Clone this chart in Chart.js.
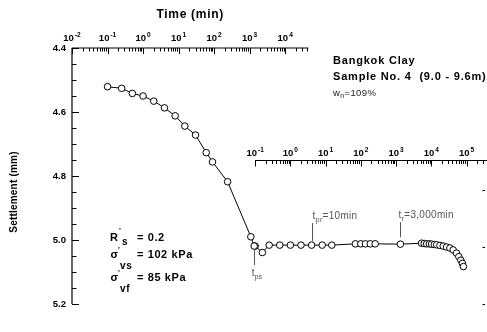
<!DOCTYPE html>
<html lang="en">
<head>
<meta charset="UTF-8">
<title>Settlement vs Time</title>
<script src="https://cdn.jsdelivr.net/npm/chart.js"></script>
<style>
  html, body { margin: 0; padding: 0; background: #fff; }
  #wrap { width: 487px; height: 332px; }
</style>
</head>
<body>
<div id="wrap"><canvas id="myChart" width="487" height="332"></canvas></div>
<script>
// Stage 1, plotted on the top time axis
const stage1Time = [0.1, 0.25, 0.5, 1, 2, 4, 8, 15, 30, 60, 90, 240, 1080, 1340];
const stage1Settle = [4.521, 4.526, 4.542, 4.550, 4.566, 4.587, 4.612, 4.644, 4.672, 4.727, 4.756, 4.818, 4.990, 5.019];

// Stage 2, plotted on the lower time axis
const stage2Time = [0.1, 0.16, 0.25, 0.5, 1, 2, 4, 8, 15, 70, 100, 135, 185, 255, 1330,
  5300, 6300, 7400, 8800, 10200, 12200, 14300, 17600, 21800, 27100, 33700, 41800, 51900, 60600, 69000, 76600, 81600];
const stage2Settle = [5.019, 5.039, 5.016, 5.016, 5.016, 5.016, 5.016, 5.016, 5.016, 5.012, 5.012, 5.012, 5.012, 5.012, 5.013,
  5.010, 5.011, 5.012, 5.012, 5.013, 5.014, 5.015, 5.017, 5.019, 5.022, 5.025, 5.031, 5.041, 5.052, 5.063, 5.073, 5.083];

// axis ticks
const topDecades = [-2, -1, 0, 1, 2, 3, 4];
const lowDecades = [-1, 0, 1, 2, 3, 4, 5];
const settleLabels = ['4.4', '4.6', '4.8', '5.0', '5.2'];
const rightTicks = [4.845, 5.022, 5.2];
const topAxisEnd = 4.5e4;
const lowAxisLevel = 4.75;   // settlement level where the lower time axis sits

const FONT = '"Liberation Sans", Arial, Helvetica, sans-serif';
const GREY = '#555';

function pts(t, s) { return t.map((v, i) => ({ x: v, y: s[i] })); }

function expLabel(ctx, x, y, exp) {
  ctx.textBaseline = 'middle';
  ctx.textAlign = 'left';
  ctx.font = 'bold 9.5px ' + FONT;
  const wb = ctx.measureText('10').width;
  ctx.font = 'bold 6.5px ' + FONT;
  const e = String(exp);
  const we = ctx.measureText(e).width;
  const x0 = x - (wb + we + 1) / 2;
  ctx.font = 'bold 9.5px ' + FONT;
  ctx.fillText('10', x0, y);
  ctx.font = 'bold 6.5px ' + FONT;
  ctx.fillText(e, x0 + wb + 1, y - 3);
}

function line(ctx, x1, y1, x2, y2) {
  ctx.beginPath(); ctx.moveTo(x1, y1); ctx.lineTo(x2, y2); ctx.stroke();
}

// text with a subscript part: [base, sub, rest]
function subText(ctx, x, y, base, sub, rest, size, weight, color) {
  ctx.fillStyle = color;
  ctx.textBaseline = 'middle';
  ctx.textAlign = 'left';
  ctx.font = weight + ' ' + size + 'px ' + FONT;
  ctx.fillText(base, x, y);
  let cx = x + ctx.measureText(base).width;
  ctx.font = weight + ' ' + (size * 0.72) + 'px ' + FONT;
  ctx.fillText(sub, cx, y + size * 0.35);
  cx += ctx.measureText(sub).width;
  ctx.font = weight + ' ' + size + 'px ' + FONT;
  ctx.fillText(rest, cx, y);
}

const axesPlugin = {
  id: 'axesPlugin',
  beforeDatasetsDraw(chart) {
    const ctx = chart.ctx;
    const { left, right, top, bottom } = chart.chartArea;
    const xs = chart.scales.x, x2 = chart.scales.x2, ys = chart.scales.y;
    ctx.save();
    ctx.strokeStyle = '#000';
    ctx.fillStyle = '#000';
    ctx.lineWidth = 1.2;

    // left settlement axis
    line(ctx, left, ys.getPixelForValue(4.4), left, ys.getPixelForValue(5.2));
    ctx.lineWidth = 1;
    for (let i = 0; i <= 16; i++) {
      const v = 4.4 + i * 0.05;
      const py = Math.round(ys.getPixelForValue(v)) + 0.5;
      line(ctx, left, py, left + (i % 4 === 0 ? 7 : 4.5), py);
    }
    ctx.font = 'bold 9.5px ' + FONT;
    ctx.textAlign = 'right';
    ctx.textBaseline = 'middle';
    settleLabels.forEach(l => ctx.fillText(l, left - 6, ys.getPixelForValue(parseFloat(l))));

    // right axis stubs
    rightTicks.forEach(v => {
      const py = Math.round(ys.getPixelForValue(v)) + 0.5;
      line(ctx, right + 0.5, py, right + 3, py);
    });

    // top time axis
    ctx.lineWidth = 1.2;
    line(ctx, xs.getPixelForValue(0.01), top, xs.getPixelForValue(topAxisEnd), top);
    ctx.lineWidth = 1;
    topDecades.forEach(d => {
      for (let m = 1; m <= 9; m++) {
        const v = m * Math.pow(10, d);
        if (v > topAxisEnd) break;
        const px = Math.round(xs.getPixelForValue(v)) + 0.5;
        line(ctx, px, top, px, top + (m === 1 ? 6 : 3.5));
      }
      expLabel(ctx, xs.getPixelForValue(Math.pow(10, d)), top - 10, d);
    });

    // lower time axis
    const ly = Math.round(ys.getPixelForValue(lowAxisLevel)) + 0.5;
    ctx.lineWidth = 1.2;
    line(ctx, x2.getPixelForValue(0.1), ly, chart.width, ly);
    ctx.lineWidth = 1;
    lowDecades.concat([6]).forEach(d => {
      for (let m = 1; m <= 9; m++) {
        const v = m * Math.pow(10, d);
        const px = Math.round(x2.getPixelForValue(v)) + 0.5;
        if (px > chart.width) break;
        line(ctx, px, ly, px, ly + (m === 1 ? 6 : 3.5));
      }
    });
    lowDecades.forEach(d => expLabel(ctx, x2.getPixelForValue(Math.pow(10, d)), ly - 7.5, d));

    // axis titles
    ctx.fillStyle = '#000';
    ctx.font = 'bold 12px ' + FONT;
    ctx.letterSpacing = '0.7px';
    ctx.textAlign = 'center';
    ctx.textBaseline = 'middle';
    ctx.fillText('Time (min)', (xs.getPixelForValue(0.01) + xs.getPixelForValue(topAxisEnd)) / 2, 15);
    ctx.save();
    ctx.translate(14, 192);
    ctx.rotate(-Math.PI / 2);
    ctx.font = 'bold 10px ' + FONT;
    ctx.letterSpacing = '0.2px';
    ctx.fillText('Settlement (mm)', 0, 0);
    ctx.restore();
    ctx.letterSpacing = '0px';
    ctx.restore();
  },
  afterDatasetsDraw(chart) {
    const ctx = chart.ctx;
    const x2 = chart.scales.x2, ys = chart.scales.y;
    ctx.save();

    // sample description
    ctx.fillStyle = '#000';
    ctx.textAlign = 'left';
    ctx.textBaseline = 'middle';
    ctx.font = 'bold 11px ' + FONT;
    ctx.letterSpacing = '0.8px';
    ctx.fillText('Bangkok Clay', 333, 61);
    ctx.fillText('Sample No. 4  (9.0 - 9.6m)', 333, 77);
    ctx.letterSpacing = '0.4px';
    subText(ctx, 333, 93, 'w', 'n', '=109%', 9.5, 'normal', '#222');

    // loading parameters
    ctx.letterSpacing = '0.6px';
    ctx.fillStyle = '#000';
    ctx.font = 'bold 11px ' + FONT;
    ctx.fillText('R', 110, 238);
    ctx.fillText('= 0.2', 137, 238);
    ctx.fillText('\u03c3', 110.5, 255);
    ctx.fillText('= 102 kPa', 137, 255);
    ctx.fillText('\u03c3', 110.5, 278);
    ctx.fillText('= 85 kPa', 137, 278);
    ctx.font = 'bold 8px ' + FONT;
    ctx.fillText("'", 119, 231);
    ctx.fillText("'", 118, 250);
    ctx.fillText("'", 118, 273);
    ctx.font = 'bold 10px ' + FONT;
    ctx.fillText('s', 122, 242);
    ctx.fillText('vs', 120, 266);
    ctx.fillText('vf', 120, 289);
    ctx.letterSpacing = '0px';

    // time markers
    ctx.strokeStyle = GREY;
    ctx.lineWidth = 1;
    const ps = { x: x2.getPixelForValue(stage2Time[0]) - 1.5, y: ys.getPixelForValue(stage2Settle[0]) };
    line(ctx, Math.round(ps.x) + 0.5, ps.y + 3, Math.round(ps.x) + 0.5, ps.y + 19);
    subText(ctx, ps.x - 2, ps.y + 27, 't', 'ps', '', 10, 'normal', GREY);

    ctx.letterSpacing = '0.3px';
    const prX = Math.round(x2.getPixelForValue(4)) + 0.5;
    const prY = ys.getPixelForValue(5.016);
    line(ctx, prX, prY - 22, prX, prY - 4);
    subText(ctx, prX, prY - 29, 't', 'pr', '=10min', 10, 'normal', GREY);

    const rX = Math.round(x2.getPixelForValue(1330)) + 0.5;
    const rY = ys.getPixelForValue(5.013);
    line(ctx, rX, rY - 22, rX, rY - 7);
    subText(ctx, rX - 2, rY - 29, 't', 'r', '=3,000min', 10, 'normal', GREY);
    ctx.letterSpacing = '0px';
    ctx.restore();
  }
};

const pointStyle = {
  borderColor: '#000',
  borderWidth: 1,
  pointRadius: 3.3,
  pointBorderWidth: 1,
  pointBackgroundColor: '#fff',
  pointBorderColor: '#000',
  tension: 0,
  fill: false
};

const ctx = document.getElementById('myChart').getContext('2d');
const myChart = new Chart(ctx, {
  type: 'line',
  data: {
    datasets: [
      Object.assign({ label: 'Stage 1', data: pts(stage1Time, stage1Settle), xAxisID: 'x', yAxisID: 'y' }, pointStyle),
      Object.assign({ label: 'Stage 2', data: pts(stage2Time, stage2Settle), xAxisID: 'x2', yAxisID: 'y' }, pointStyle)
    ]
  },
  options: {
    responsive: false,
    animation: false,
    devicePixelRatio: 1,
    layout: { padding: { left: 72, right: 3, top: 48, bottom: 28 } },
    plugins: { legend: { display: false }, tooltip: { enabled: false } },
    scales: {
      x: { type: 'logarithmic', display: false, min: 0.01, max: Math.pow(10, 9.54) },
      x2: { type: 'logarithmic', display: false, min: Math.pow(10, -6.2), max: Math.pow(10, 5.44) },
      y: { type: 'linear', display: false, reverse: true, min: 4.4, max: 5.2 }
    }
  },
  plugins: [axesPlugin]
});
</script>
</body>
</html>
